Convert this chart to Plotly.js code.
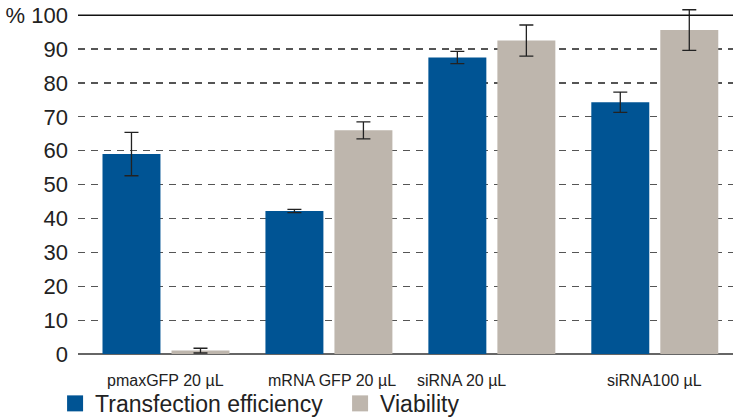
<!DOCTYPE html>
<html>
<head>
<meta charset="utf-8">
<script src="https://cdn.plot.ly/plotly-3.0.1.min.js"></script>
<style>html,body{margin:0;padding:0;background:#fff;}#chart{width:733px;height:419px;}</style>
</head>
<body>
<div id="chart"></div>
<script>
var categories = ["pmaxGFP 20 µL", "mRNA GFP 20 µL", "siRNA 20 µL", "siRNA100 µL"];
var transfection = [59, 42.2, 87.5, 74.3];
var transfectionErr = [6.4, 0.5, 1.8, 3.0];
var viability = [1.0, 66.0, 92.5, 95.6];
var viabilityErr = [0.7, 2.5, 4.6, 6.0];
var yTickVals = [0, 10, 20, 30, 40, 50, 60, 70, 80, 90, 100];
var yTickText = ["0", "10", "20", "30", "40", "50", "60", "70", "80", "90", "% 100"];
var labelShift = [0, 3, -30, 0];

var blue = "#005494";
var beige = "#beb6ad";
var fontFam = "Liberation Sans, Arial, sans-serif";

var traces = [
  {type: "bar", x: categories, y: transfection, name: "Transfection efficiency",
   marker: {color: blue}, showlegend: false,
   error_y: {type: "data", array: transfectionErr, visible: true, color: "#222", thickness: 1.3, width: 7}},
  {type: "bar", x: categories, y: viability, name: "Viability",
   marker: {color: beige}, showlegend: false,
   error_y: {type: "data", array: viabilityErr, visible: true, color: "#222", thickness: 1.3, width: 7}},
  {type: "scatter", mode: "markers", x: [null], y: [null], name: "Transfection efficiency",
   marker: {symbol: "square", size: 17, color: blue}},
  {type: "scatter", mode: "markers", x: [null], y: [null], name: "Viability",
   marker: {symbol: "square", size: 17, color: beige}}
];

var annotations = categories.map(function (c, i) {
  return {x: c, xref: "x", y: 0, yref: "paper", yanchor: "middle", yshift: -26,
          xshift: labelShift[i], text: c, showarrow: false,
          font: {family: fontFam, size: 16, color: "#222"}};
});

var layout = {
  width: 733, height: 419,
  margin: {l: 78, r: 0, t: 5, b: 65, autoexpand: false},
  paper_bgcolor: "#fff", plot_bgcolor: "#fff",
  barmode: "group", bargap: 0.153, bargroupgap: 0.16,
  xaxis: {type: "category", range: [-0.54, 3.48], showticklabels: false, showgrid: false,
          zeroline: false, showline: false, ticks: "", fixedrange: true},
  yaxis: {range: [0, 103], tickvals: yTickVals, ticktext: yTickText, showgrid: true,
          gridcolor: "#555", gridwidth: 1.2, griddash: "7px,6px",
          zeroline: true, zerolinecolor: "#666", zerolinewidth: 2,
          showline: false, ticks: "", ticklabelstandoff: 9,
          tickfont: {family: fontFam, size: 22, color: "#222"}},
  shapes: [{type: "line", xref: "paper", yref: "y", x0: 0, x1: 1, y0: 100, y1: 100,
            line: {color: "#111", width: 1.5}}],
  annotations: annotations,
  legend: {orientation: "h", x: -0.035, xanchor: "left", y: -0.08, yanchor: "top",
           font: {family: fontFam, size: 23, color: "#222"}, entrywidth: 240, entrywidthmode: "pixels",
           bgcolor: "rgba(0,0,0,0)"}
};

Plotly.newPlot("chart", traces, layout, {displayModeBar: false, staticPlot: true});
</script>
</body>
</html>
